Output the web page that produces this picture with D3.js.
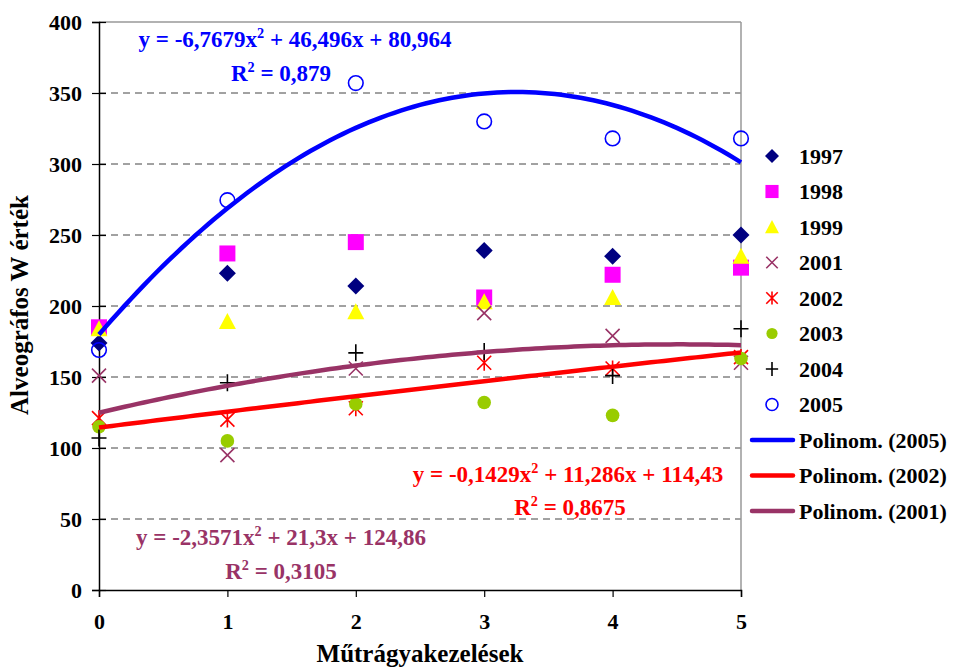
<!DOCTYPE html>
<html><head><meta charset="utf-8">
<script src="https://cdn.jsdelivr.net/npm/d3@7"></script>
<style>html,body{margin:0;padding:0;background:#fff;}</style>
</head>
<body>
<svg id="chart" width="955" height="668"></svg>
<script>
// ---- data ----
const xValues = [0, 1, 2, 3, 4, 5];
const years = ["1997", "1998", "1999", "2001", "2002", "2003", "2004", "2005"];
const s1997 = [174, 223, 214, 239, 235, 250];
const s1998 = [185, 237, 245, 206, 222, 227];
const s1999 = [184, 189, 196, 203, 206, 235];
const s2001 = [151, 95, 156, 195, 179, 160];
const s2002 = [121, 120, 128, 160, 156, 164];
const s2003 = [115, 105, 131, 132, 123, 163];
const s2004 = [107, 146, 167, 168, 151, 184];
const s2005 = [169, 274.5, 357, 330, 318, 318];
// trend polynomial coefficients [c, b, a] : y = a x^2 + b x + c
const trend2005 = [179.9, 105.1, -16.17];
const trend2002 = [114.43, 11.286, -0.1429];
const trend2001 = [124.86, 21.3, -2.3571];
const trendNames = ["Polinom. (2005)", "Polinom. (2002)", "Polinom. (2001)"];
const yTicks = [0, 50, 100, 150, 200, 250, 300, 350, 400];
const xTicks = [0, 1, 2, 3, 4, 5];
const eq2005 = ["y = -6,7679x", "2", " + 46,496x + 80,964"];
const r2005 = ["R", "2", " = 0,879"];
const eq2002 = ["y = -0,1429x", "2", " + 11,286x + 114,43"];
const r2002 = ["R", "2", " = 0,8675"];
const eq2001 = ["y = -2,3571x", "2", " + 21,3x + 124,86"];
const r2001 = ["R", "2", " = 0,3105"];

// ---- styles ----
const FONT = '"Liberation Serif"';
const seriesData = [s1997, s1998, s1999, s2001, s2002, s2003, s2004, s2005];
const markerStyle = [
  {type: "diamond", color: "#000080"},
  {type: "square", color: "#FF00FF"},
  {type: "triangle", color: "#FFFF00"},
  {type: "x", color: "#993366"},
  {type: "star", color: "#FF0000"},
  {type: "circle", color: "#99CC00"},
  {type: "plus", color: "#000000"},
  {type: "ocircle", color: "#0000FF"}
];
const trends = [trend2005, trend2002, trend2001];
const trendColors = ["#0000FF", "#FF0000", "#993366"];

const svg = d3.select("#chart");
const x = d3.scaleLinear().domain([0, 5]).range([99, 741]);
const y = d3.scaleLinear().domain([0, 400]).range([590, 22]);

function txt(sel) { return sel.style("font-family", FONT).style("font-weight", "bold"); }

// gridlines
svg.append("g").selectAll("line").data(yTicks.filter(d => d > 0 && d < 400)).join("line")
  .attr("x1", x(0)).attr("x2", x(5)).attr("y1", d => y(d)).attr("y2", d => y(d))
  .attr("stroke", "#444").attr("stroke-width", 1).attr("stroke-dasharray", "7,5");
// top & right border
svg.append("line").attr("x1", x(0)).attr("x2", x(5)).attr("y1", y(400)).attr("y2", y(400))
  .attr("stroke", "#999").attr("stroke-width", 1.5);
svg.append("line").attr("x1", x(5)).attr("x2", x(5)).attr("y1", y(400)).attr("y2", y(0))
  .attr("stroke", "#999").attr("stroke-width", 1.5);

// axes
const yAxis = svg.append("g").attr("transform", `translate(${x(0)},0)`)
  .call(d3.axisLeft(y).tickValues(yTicks).tickFormat(d3.format("d")).tickSize(7).tickPadding(10));
yAxis.selectAll(".tick line").attr("x2", 7).attr("x1", -7);
const xAxis = svg.append("g").attr("transform", `translate(0,${y(0)})`)
  .call(d3.axisBottom(x).tickValues(xTicks).tickFormat(d3.format("d")).tickSize(7).tickPadding(16));
[yAxis, xAxis].forEach(a => {
  a.select(".domain").attr("stroke", "#000").attr("stroke-width", 1.5);
  a.selectAll(".tick line").attr("stroke", "#000").attr("stroke-width", 1.2);
  txt(a.selectAll("text")).attr("font-size", 22).attr("fill", "#000");
});
xAxis.selectAll("text").attr("dy", "0.71em");

// marker drawing
function drawMarker(g, type, color, k) {
  if (type === "diamond") g.append("path").attr("d", `M0,${-8.5*k}L${8.5*k},0L0,${8.5*k}L${-8.5*k},0Z`).attr("fill", color);
  else if (type === "square") g.append("rect").attr("x", -8*k).attr("y", -8*k).attr("width", 16*k).attr("height", 16*k).attr("fill", color);
  else if (type === "triangle") g.append("path").attr("d", `M0,${-8.5*k}L${8.5*k},${7.5*k}L${-8.5*k},${7.5*k}Z`).attr("fill", color);
  else if (type === "x") g.append("path").attr("d", `M${-7*k},${-7*k}L${7*k},${7*k}M${-7*k},${7*k}L${7*k},${-7*k}`).attr("stroke", color).attr("stroke-width", 1.6).attr("fill", "none");
  else if (type === "star") g.append("path").attr("d", `M${-7*k},${-7*k}L${7*k},${7*k}M${-7*k},${7*k}L${7*k},${-7*k}M0,${-8*k}L0,${8*k}`).attr("stroke", color).attr("stroke-width", 1.6).attr("fill", "none");
  else if (type === "circle") g.append("circle").attr("r", 6.8*k).attr("fill", color);
  else if (type === "plus") g.append("path").attr("d", `M${-7.5*k},0L${7.5*k},0M0,${-8.5*k}L0,${8.5*k}`).attr("stroke", color).attr("stroke-width", 1.6).attr("fill", "none");
  else if (type === "ocircle") g.append("circle").attr("r", 7.3*k).attr("fill", "none").attr("stroke", color).attr("stroke-width", 1.6);
}

// points
seriesData.forEach((vals, i) => {
  const g = svg.append("g");
  vals.forEach((v, j) => {
    const mg = g.append("g").attr("transform", `translate(${x(xValues[j])},${y(v)})`);
    drawMarker(mg, markerStyle[i].type, markerStyle[i].color, 1);
  });
});

// trend lines
const xs = d3.range(0, 5.0001, 0.05);
const lineGen = d3.line().x(d => x(d[0])).y(d => y(d[1]));
trends.forEach((c, i) => {
  const pts = xs.map(t => [t, c[0] + c[1]*t + c[2]*t*t]);
  svg.append("path").attr("d", lineGen(pts)).attr("fill", "none")
    .attr("stroke", trendColors[i]).attr("stroke-width", 4.5).attr("stroke-linejoin", "round");
});

// equation labels
function eqText(parts, cx, by, color, size) {
  const t = txt(svg.append("text")).attr("x", cx).attr("y", by).attr("text-anchor", "middle")
    .attr("font-size", size).attr("fill", color);
  t.append("tspan").text(parts[0]);
  t.append("tspan").attr("dy", -9).attr("font-size", size*0.62).text(parts[1]);
  t.append("tspan").attr("dy", 9).text(parts[2]);
}
eqText(eq2005, 295, 47, "#0000FF", 23);
eqText(r2005, 281, 81, "#0000FF", 23);
eqText(eq2002, 568, 482, "#FF0000", 23);
eqText(r2002, 570, 515, "#FF0000", 23);
eqText(eq2001, 281, 545, "#993366", 23);
eqText(r2001, 281, 579, "#993366", 23);

// legend
const legY0 = 156, legStep = 35.5;
years.forEach((yr, i) => {
  const ly = legY0 + i*legStep;
  const mg = svg.append("g").attr("transform", `translate(772,${ly})`);
  drawMarker(mg, markerStyle[i].type, markerStyle[i].color, 0.82);
  txt(svg.append("text")).attr("x", 799).attr("y", ly).attr("dy", "0.35em").attr("font-size", 22).attr("fill", "#000").text(yr);
});
trendNames.forEach((nm, i) => {
  const ly = legY0 + (years.length + i)*legStep;
  svg.append("line").attr("x1", 752).attr("x2", 793).attr("y1", ly).attr("y2", ly)
    .attr("stroke", trendColors[i]).attr("stroke-width", 4.5).attr("stroke-linecap", "round");
  txt(svg.append("text")).attr("x", 799).attr("y", ly).attr("dy", "0.35em").attr("font-size", 22).attr("fill", "#000").text(nm);
});

// axis titles
txt(svg.append("text")).attr("transform", "translate(28,305) rotate(-90)").attr("text-anchor", "middle")
  .attr("font-size", 25).attr("fill", "#000").text("Alveográfos W érték");
txt(svg.append("text")).attr("x", 420).attr("y", 662).attr("text-anchor", "middle")
  .attr("font-size", 25).attr("fill", "#000").text("Műtrágyakezelések");
</script>
</body></html>
